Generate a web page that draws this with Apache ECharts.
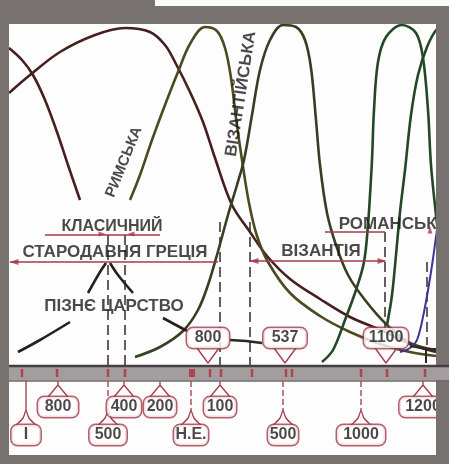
<!DOCTYPE html>
<html><head><meta charset="utf-8">
<script src="https://cdn.jsdelivr.net/npm/echarts/dist/echarts.min.js"></script>
<style>html,body{margin:0;padding:0;background:#77716f}#c{width:449px;height:464px}</style>
</head><body><div id="c"></div>
<script>
// ---- data: [timeline position, level] (level axis runs downward) ----
const archaicCurve = [[9,48],[22,60],[33,75],[45,100],[57,132],[68,165],[80,200]];
const greekCurve = [[9,93],[30,75],[60,52],[95,35],[125,28],[150,32],[165,45],[175,62],[190,92],[203,122],[215,158],[232,205],[250,232],[267,256],[290,279],[320,299],[350,317],[383,331],[410,344],[436,352]];
const romanCurve = [[130,200],[140,175],[152,140],[165,105],[178,72],[190,44],[205,27],[217,31],[225,48],[231,78],[236,118],[242,160],[249,203],[257,236],[268,262],[290,293],[320,316],[350,332],[380,344],[410,352],[436,356]];
const byzantineCurve = [[135,357],[160,347],[183,331],[198,310],[208,285],[217,255],[228,215],[237,185],[244,160],[252,115],[260,70],[270,40],[283,25],[296,27],[305,40],[311,68],[316,120],[320,165],[327,213],[336,245],[348,275],[365,300],[387,325],[410,343],[436,350]];
const romanesqueCurveA = [[322,362],[333,350],[345,320],[356,290],[364,262],[368,225],[370,195],[372,160],[374,110],[378,62],[386,37],[402,25],[416,33],[423,58],[428,110],[431,165],[436,215],[441,260]];
const romanesqueCurveB = [[387,325],[392,295],[396,255],[400,212],[405,170],[411,115],[418,75],[427,47],[437,29],[447,24]];
const gothicCurve = [[400,352],[410,348],[417,340],[424,312],[431,272],[437,230],[443,190]];
const lateKingdomLeft = [[18,352],[40,340],[70,322]];
const lateKingdomRight = [[163,318],[187,331]];
const greekPeakLeft = [[88,293],[100,272],[106,263]];
const greekPeakRight = [[110,263],[118,275],[133,293]];

const periodNames = ['КЛАСИЧНИЙ','СТАРОДАВНЯ ГРЕЦІЯ','ВІЗАНТІЯ','РОМАНСЬКІ','ПІЗНЄ ЦАРСТВО'];
const periodPos = [[112,227],[115,252],[321,251],[390,224],[114,306]];
const periodSpans = [[[45,235],[160,235]],[[10,262],[218,262]],[[250,261],[385,261]],[[325,232],[385,232]]];

const styleNames = ['РИМСЬКА','ВІЗАНТІЙСЬКА'];
const stylePos = [[124,162],[241,94]];

const lowerTicks = ['800','400','200','100','1200'];
const lowerTickX = [58,124,160,220,423];
const bottomTicks = ['І','500','Н.Е.','500','1000'];
const bottomTickX = [26,108,191,283,361];
const upperTicks = ['800','537','1100'];
const upperTickX = [208,285,386];
const bandMarkX = [22,57,108,125,192,210,221,252,286,292,361,387,425];

const guideX = [108,125,220,250,385,427];
const guideTop = [235,235,222,222,232,262];
const guideBottom = [366,366,366,366,330,345];

// ---- layout / styles ----
const LOWER_Y = 407, BOTTOM_Y = 435, UPPER_Y = 338, BAND_Y = 373;
const lowerW = [43,37,35,35,50], bottomW = [32,40,37,33,51], upperW = [45,46,47];
const periodFont = [16,17,17,17,17];
const RED = '#a23a48', INK = '#1f1a1b', FONT = 'Liberation Sans, Arial, sans-serif';

function poly(pts, color, width, extra) {
  return Object.assign({type:'line', data:pts, symbol:'none', smooth:0.35, silent:true,
    lineStyle:{color:color, width:width}, z:3}, extra || {});
}
function straight(pts, color, width, extra) {
  return poly(pts, color, width, Object.assign({smooth:false}, extra || {}));
}
function boxes(names, xs, y, widths, fontSize) {
  return {type:'scatter', symbolSize:0, silent:true, z:70,
    data: names.map((n,i)=>({name:n, value:[xs[i], y], label:{width:widths[i]-3}})),
    label:{show:true, position:'inside', formatter:'{b}', color:INK, fontSize:fontSize, fontFamily:FONT,
      fontWeight:'bold', align:'center', backgroundColor:'#fff', borderColor:RED, borderWidth:1.5, borderRadius:6,
      padding:[3,0], lineHeight:14}};
}

const series = [];
// timeline band
series.push(straight([[9,BAND_Y],[449,BAND_Y]], '#a39d9d', 15, {z:85}));
series.push(straight([[9,BAND_Y-7],[449,BAND_Y-7]], '#463e40', 2.5, {z:86}));
series.push(straight([[9,BAND_Y+8],[449,BAND_Y+8]], '#6e6768', 1.5, {z:86}));

// guide dashed verticals
guideX.forEach((x,i)=>series.push(straight([[x,guideTop[i]],[x,guideBottom[i]]], '#3e3838', 1.6,
  {lineStyle:{color:'#3e3838', width:1.6, type:[10,5]}})));

// curves
const CW = 2.6;
series.push(poly(archaicCurve, '#46201f', CW));
series.push(poly(greekCurve, '#46201f', CW));
series.push(poly(romanCurve, '#4d4a22', CW));
series.push(poly(byzantineCurve, '#363f22', CW));
series.push(poly(romanesqueCurveA, '#244826', CW));
series.push(poly(romanesqueCurveB, '#244826', CW));
series.push(poly(gothicCurve, '#3f3396', 2));
[lateKingdomLeft, lateKingdomRight, greekPeakLeft, greekPeakRight].forEach(p=>series.push(poly(p, '#272020', 2.6)));

// period spans (red)
periodSpans.forEach(p=>series.push(straight(p, RED, 1.6, {z:4})));
series.push({type:'scatter', symbol:'triangle', silent:true, z:5, itemStyle:{color:RED},
  data:[{value:[14,262], symbolRotate:90, symbolSize:[6,9]},
        {value:[254,261], symbolRotate:90, symbolSize:[6,9]},
        {value:[382,261], symbolRotate:-90, symbolSize:[6,9]},
        {value:[102,234], symbolRotate:-90, symbolSize:[5,7]},
        {value:[131,234], symbolRotate:90, symbolSize:[5,7]},
        {value:[430,230], symbolRotate:0, symbolSize:[5,7]}]});

// period labels
series.push({type:'scatter', symbolSize:0, silent:true, z:6,
  data: periodNames.map((n,i)=>({name:n, value:periodPos[i], label:{fontSize:periodFont[i]}})),
  label:{show:true, position:'inside', formatter:'{b}', color:INK, fontWeight:'bold', fontFamily:FONT}});
// style labels (rotated)
series.push({type:'scatter', symbolSize:0, silent:true, z:6,
  data: [{name:styleNames[0], value:stylePos[0], label:{rotate:68, fontSize:15}},
         {name:styleNames[1], value:stylePos[1], label:{rotate:81, fontSize:17}}],
  label:{show:true, position:'inside', formatter:'{b}', color:INK, fontWeight:'bold', fontFamily:FONT}});

// connectors to timeline band
lowerTickX.forEach(x=>series.push(straight([[x-10,LOWER_Y-10],[x,BAND_Y+12],[x,BAND_Y+8],[x,BAND_Y+12],[x+10,LOWER_Y-10]], RED, 1.3, {z:62})));
bottomTickX.forEach((x,i)=>{
  series.push(straight([[x,BAND_Y+8],[x,BOTTOM_Y-24]], RED, 1.3, {z:62,
    lineStyle:{color:RED, width:1.3, type: i===0 ? 'solid' : [6,3]}}));
  series.push(poly([[x-10,BOTTOM_Y-10],[x-3,BOTTOM_Y-17],[x,BOTTOM_Y-24],[x+3,BOTTOM_Y-17],[x+10,BOTTOM_Y-10]], RED, 1.3, {z:62}));
});
upperTickX.forEach(x=>series.push(straight([[x-11,UPPER_Y+10],[x,BAND_Y-10],[x+11,UPPER_Y+10]], RED, 1.3, {z:62})));
series.push({type:'scatter', symbol:'rect', silent:true, z:87, itemStyle:{color:'#b02f3b'},
  data: bandMarkX.map(x=>({value:[x,BAND_Y], symbolSize: x===192 ? [6,8] : [2.5,8]}))});

// dark joins near upper boxes
series.push(straight([[230,340],[246,341],[246,343],[262,343]], '#2c2626', 2.5, {z:65}));
series.push(straight([[410,346],[426,349],[436,349]], '#2c2626', 2, {z:65}));
series.push(straight([[426,349],[426,363]], '#2c2626', 2, {z:65}));

// boxed tick labels
series.push(boxes(lowerTicks, lowerTickX, LOWER_Y, lowerW, 16));
series.push(boxes(bottomTicks, bottomTickX, BOTTOM_Y, bottomW, 16));
series.push(boxes(upperTicks, upperTickX, UPPER_Y, upperW, 16));

const GRAY = '#77716f';
const chart = echarts.init(document.getElementById('c'));
chart.setOption({
  backgroundColor: GRAY,
  animation:false,
  grid:{left:0,right:0,top:0,bottom:0},
  xAxis:{type:'value', min:0, max:449, show:false},
  yAxis:{type:'value', min:0, max:464, inverse:true, show:false},
  graphic:[
    {type:'rect', z:0, shape:{x:9,y:24,width:427,height:431}, style:{fill:'#fdfdfd'}},
    {type:'rect', z:80, shape:{x:0,y:0,width:449,height:24}, style:{fill:GRAY}},
    {type:'rect', z:80, shape:{x:0,y:0,width:9,height:464}, style:{fill:GRAY}},
    {type:'rect', z:80, shape:{x:436,y:0,width:13,height:464}, style:{fill:GRAY}},
    {type:'rect', z:80, shape:{x:0,y:455,width:449,height:9}, style:{fill:GRAY}},
    {type:'rect', z:81, shape:{x:155,y:0,width:294,height:6}, style:{fill:'#fafafa'}}
  ],
  series: series
});
</script></body></html>
